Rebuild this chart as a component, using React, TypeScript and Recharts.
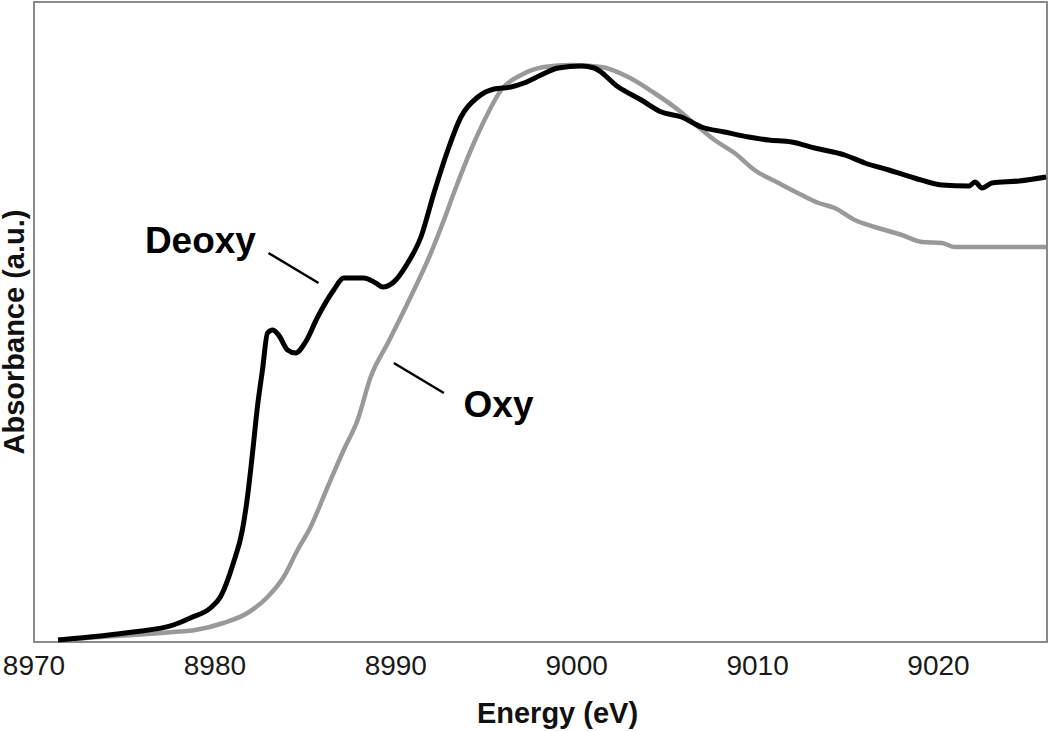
import React from 'react';
import { LineChart, Line, XAxis, YAxis, ReferenceArea, ReferenceLine, ReferenceDot } from 'recharts';

const FONT = '"Liberation Sans", Arial, Helvetica, sans-serif';

const deoxyEnergy = [8971.33, 8973.66, 8975.48, 8977.7, 8978.64, 8979.75, 8980.3, 8981.02, 8981.52, 8981.8, 8982.08, 8982.35, 8982.63, 8982.91, 8983.19, 8983.52, 8984.02, 8984.46, 8985.01, 8985.68, 8986.57, 8987.12, 8988.23, 8988.89, 8989.28, 8989.89, 8990.66, 8991.39, 8992.11, 8992.88, 8993.6, 8994.54, 8995.43, 8996.37, 8997.09, 8998.03, 8998.98, 9000.25, 9000.97, 9002.3, 9003.57, 9004.68, 9005.79, 9006.9, 9008.17, 9009.5, 9010.61, 9011.88, 9013.16, 9014.82, 9015.93, 9017.26, 9018.67, 9020.19, 9021.69, 9022.02, 9022.41, 9022.96, 9024.46, 9025.95];
const deoxyAbs = [0.005, 0.015, 0.025, 0.0425, 0.06, 0.085, 0.1125, 0.1975, 0.28, 0.3625, 0.4725, 0.5875, 0.68, 0.7725, 0.78, 0.7675, 0.73, 0.7225, 0.75, 0.8125, 0.88, 0.91, 0.91, 0.8975, 0.8875, 0.9, 0.9475, 1.0125, 1.1225, 1.23, 1.3125, 1.3625, 1.3825, 1.3875, 1.3975, 1.4175, 1.435, 1.44, 1.435, 1.3875, 1.355, 1.325, 1.3125, 1.2875, 1.275, 1.2625, 1.255, 1.25, 1.235, 1.2175, 1.1975, 1.18, 1.16, 1.1425, 1.14, 1.15, 1.135, 1.1475, 1.1525, 1.1625];

const oxyEnergy = [8971.33, 8973.66, 8975.48, 8977.7, 8978.92, 8980.47, 8981.8, 8982.91, 8983.8, 8984.57, 8985.29, 8986.23, 8987.12, 8987.89, 8988.61, 8989.56, 8990.66, 8991.94, 8992.66, 8993.21, 8994.15, 8995.1, 8995.82, 8996.93, 8998.2, 8999.7, 9001.36, 9002.85, 9004.29, 9005.62, 9006.73, 9007.62, 9008.73, 9009.83, 9011.16, 9012.44, 9013.38, 9014.27, 9015.37, 9016.48, 9017.98, 9019.09, 9020.19, 9020.91, 9025.95];
const oxyAbs = [0.005, 0.0125, 0.0175, 0.025, 0.03, 0.0475, 0.0725, 0.1125, 0.1625, 0.23, 0.2875, 0.3875, 0.48, 0.555, 0.6625, 0.7475, 0.8475, 0.9725, 1.055, 1.1225, 1.23, 1.3225, 1.38, 1.4175, 1.4375, 1.4425, 1.4375, 1.4125, 1.3725, 1.33, 1.2875, 1.255, 1.2225, 1.18, 1.1475, 1.1175, 1.0975, 1.085, 1.055, 1.0375, 1.0175, 1.0, 0.9975, 0.9875, 0.9875];

const xTicks = [8970, 8980, 8990, 9000, 9010, 9020];

const deoxyData = deoxyEnergy.map((e, i) => ({ e, v: deoxyAbs[i] }));
const oxyData = oxyEnergy.map((e, i) => ({ e, v: oxyAbs[i] }));

const XTick = (props: any) => (
  <text x={props.x} y={675} textAnchor="middle" fontSize={28} fill="#1a1a1a" fontFamily={FONT}>
    {props.payload.value}
  </text>
);

const XTitle = (props: any) => {
  const vb = props.viewBox;
  return (
    <text x={vb.x + vb.width / 2 + 17} y={723} textAnchor="middle" fontSize={29} fontWeight="bold" fill="#111" fontFamily={FONT}>
      Energy (eV)
    </text>
  );
};

const YTitle = () => {
  const cx = 14;
  const cy = 332;
  return (
    <text x={cx} y={cy} dy="0.36em" transform={`rotate(-90 ${cx} ${cy})`} textAnchor="middle" fontSize={29} fontWeight="bold" fill="#111" fontFamily={FONT}>
      Absorbance (a.u.)
    </text>
  );
};

const annotationLabel = (text: string) => ({
  value: text,
  position: 'center' as const,
  fontSize: 37,
  fontWeight: 'bold',
  fill: '#000',
  fontFamily: FONT,
});

export default function App() {
  return (
    <div style={{ position: 'absolute', left: 0, top: 0, width: 1050, height: 731, background: '#fff' }}>
      <LineChart width={1050} height={731} margin={{ top: 2, right: 3, left: 0, bottom: 29 }}>
        <XAxis
          type="number"
          dataKey="e"
          domain={[8970, 9026]}
          ticks={xTicks}
          allowDataOverflow
          axisLine={false}
          tickLine={false}
          height={60}
          tick={<XTick />}
          label={<XTitle />}
        />
        <YAxis type="number" dataKey="v" domain={[0, 1.6]} width={34} tick={false} axisLine={false} tickLine={false} label={<YTitle />} />
        <ReferenceArea x1={8970} x2={9026} y1={0} y2={1.6} fill="none" stroke="#8a8a8a" strokeWidth={2} />
        <Line data={oxyData} dataKey="v" type="monotone" stroke="#999999" strokeWidth={4.5} dot={false} isAnimationActive={false} />
        <Line data={deoxyData} dataKey="v" type="monotone" stroke="#000000" strokeWidth={5} dot={false} isAnimationActive={false} />
        <ReferenceLine segment={[{ x: 8982.96, y: 0.9725 }, { x: 8985.73, y: 0.8975 }]} stroke="#000" strokeWidth={2.5} />
        <ReferenceLine segment={[{ x: 8989.89, y: 0.6975 }, { x: 8992.66, y: 0.6225 }]} stroke="#000" strokeWidth={2.5} />
        <ReferenceDot x={8979.2} y={1.005} r={0} fill="none" stroke="none" label={annotationLabel('Deoxy')} />
        <ReferenceDot x={8995.68} y={0.595} r={0} fill="none" stroke="none" label={annotationLabel('Oxy')} />
      </LineChart>
    </div>
  );
}
